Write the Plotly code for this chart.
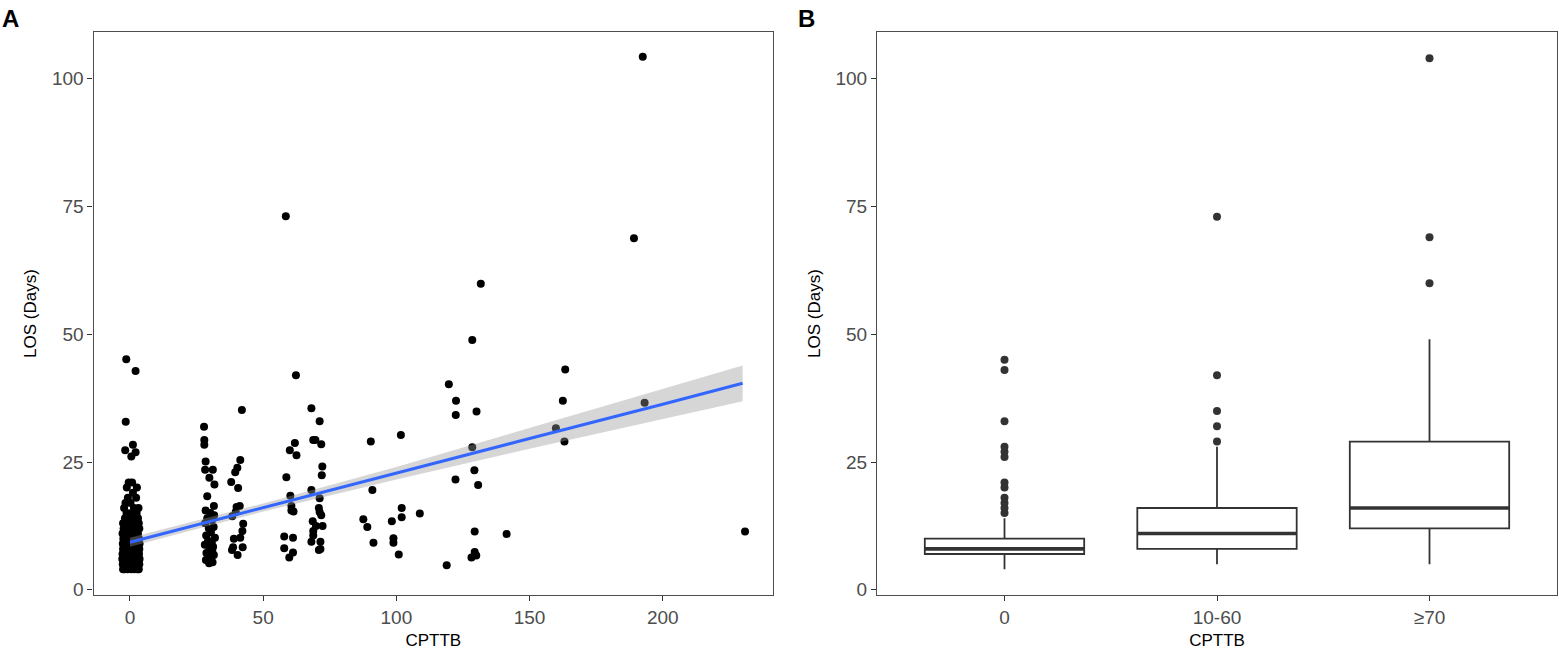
import plotly.graph_objects as go

# ---------------- Panel A data (CPTTB vs LOS, jittered as plotted) ----------------
ZERO_Y = [
    4, 4, 4, 4, 4, 4, 4,
    5, 5, 5, 5, 5, 5, 5, 5, 5, 5,
    6, 6, 6, 6, 6, 6, 6, 6, 6, 6, 6, 6, 6,
    7, 7, 7, 7, 7, 7, 7, 7, 7, 7, 7, 7, 7, 7, 7, 7, 7, 7,
    8, 8, 8, 8, 8, 8, 8, 8, 8, 8, 8, 8, 8, 8, 8, 8, 8, 8,
    9, 9, 9, 9, 9, 9, 9, 9, 9, 9, 9, 9, 9, 9,
    10, 10, 10, 10, 10, 10, 10, 10, 10, 10, 10, 10, 10,
    11, 11, 11, 11, 11, 11, 11, 11, 11,
    12, 12, 12, 12, 12, 12, 12, 12,
    13, 13, 13, 13, 13, 13, 13,
    14, 14, 14, 14, 14,
    15, 15, 15,
    16, 16, 16,
    17, 17,
    18, 18,
    19,
    20, 20,
    21, 21,
    26.1,
    27.3, 26.9,
    28.4,
    32.9,
    42.8,
    45.1,
]
ZERO_X = [
    -2.1, 0.4, 2.8, -0.9, 1.6, 3.3, -2.6,
    -1.5, 0.9, 2.2, -2.7, 3.5, -0.3, 1.4, -1.9, 2.9, 0.1,
    1.1, -2.4, 3.1, -0.7, 2.0, -1.6, 0.5, 3.6, -2.9, 1.7, -0.1, 2.6, -1.2,
    -0.5, 2.3, -2.2, 1.3, 3.4, -1.4, 0.7, -2.8, 2.7, -0.2, 1.9, -1.0, 3.0, 0.3, -2.5, 1.5, -1.8, 2.4,
    0.6, -2.3, 2.1, -0.8, 3.2, -1.7, 1.0, -2.6, 2.8, 0.0, -1.1, 1.8, 3.5, -0.4, -2.0, 2.5, 0.8, -1.3,
    1.2, -1.9, 3.3, -0.6, 2.2, -2.7, 0.4, 1.6, -1.0, 2.9, -2.2, 0.9, 3.6, -0.3,
    -1.4, 2.0, 0.2, -2.5, 3.1, 1.4, -0.7, 2.6, -1.8, 0.7, 3.4, -2.1, 1.1,
    0.5, -1.6, 2.4, -2.8, 1.8, -0.2, 3.0, -1.1, 0.9,
    -0.9, 1.7, -2.4, 2.9, 0.3, -1.5, 2.2, 3.5,
    1.3, -2.0, 0.1, 2.7, -1.2, 3.3, -2.6,
    -0.4, 2.1, -1.9, 1.0, 3.0,
    0.6, -1.3, 2.5,
    -2.2, 1.5, 3.2,
    0.2, -1.7,
    2.3, -0.8,
    1.1,
    -1.2, 2.6,
    -0.5, 0.8,
    0.5,
    -1.8, 2.1,
    1.1,
    -1.6,
    2.1,
    -1.4,
]

OTHER_X = [
    # ~30
    27.8, 27.9, 27.9, 28.4, 28.2, 31.1, 29.8, 31.7, 29.0, 31.5, 28.4, 30.2, 31.6, 29.0, 30.8, 28.2, 31.4,
    29.6, 30.4, 28.6, 31.9, 29.3, 30.7, 28.1, 31.2, 29.8, 30.9, 28.7, 31.5, 29.4, 30.3, 28.5, 31.0, 29.7,
    # ~40
    42.0, 41.4, 40.3, 39.5, 38.0, 40.6, 41.2, 40.0, 38.4, 42.5, 42.2, 41.4, 39.0, 38.7, 42.3, 38.3, 40.4, 39.7,
    # ~60
    58.5, 62.3, 61.9, 60.0, 62.5, 58.7, 60.2, 60.6, 60.6, 61.4, 57.9, 61.2, 57.9, 61.2, 59.8,
    # ~70
    68.1, 71.2, 68.8, 69.6, 71.8, 72.2, 72.0, 68.1, 71.2, 70.9, 71.2, 71.8, 68.6, 72.3, 69.8, 68.8, 68.8,
    68.1, 71.5, 70.9, 71.5,
    # ~90
    90.4, 91.0, 87.6, 89.1, 91.4,
    # ~100
    101.7, 102.0, 102.0, 98.3, 98.9, 98.9, 100.9,
    # ~110
    108.8,
    # ~120
    119.7, 122.4, 122.3, 122.2, 118.9,
    # ~130
    131.7, 128.5, 130.1, 128.5, 129.3, 130.7, 129.4, 129.4, 130.0, 128.2,
    # ~140
    141.4,
    # ~160
    163.4, 162.5, 159.9, 163.1,
    # ~190
    192.5, 189.2, 193.2,
    # ~230
    230.9,
]
OTHER_Y = [
    # ~30
    31.9, 29.3, 28.4, 25.1, 23.5, 23.5, 21.9, 20.6, 18.3, 16.4, 15.5, 15.0, 14.6, 14.0, 13.6, 13.0, 12.3,
    12.0, 11.2, 10.6, 10.2, 9.6, 9.2, 8.8, 8.4, 8.0, 7.6, 7.2, 6.8, 6.6, 6.1, 5.8, 5.4, 5.2,
    # ~40
    35.2, 25.4, 23.9, 23.0, 21.1, 19.9, 16.4, 16.2, 14.4, 12.9, 11.5, 10.2, 10.0, 8.3, 8.3, 7.8, 6.8, 15.2,
    # ~60
    73.1, 42.0, 28.7, 27.3, 26.3, 22.0, 18.4, 16.4, 15.5, 15.3, 10.4, 10.2, 8.1, 7.3, 6.3,
    # ~70
    35.5, 33.0, 29.3, 29.3, 28.5, 24.1, 22.4, 19.5, 17.9, 16.0, 15.2, 14.6, 13.4, 12.5, 12.5, 11.5, 10.6,
    9.4, 9.4, 7.8, 8.0,
    # ~90
    29.0, 19.5, 13.8, 12.3, 9.2,
    # ~100
    30.3, 16.0, 14.2, 13.4, 10.1, 9.2, 6.9,
    # ~110
    14.9,
    # ~120
    40.2, 37.0, 34.2, 21.6, 4.8,
    # ~130
    59.9, 48.9, 34.9, 27.9, 23.4, 20.5, 11.4, 7.4, 6.7, 6.3,
    # ~140
    10.9,
    # ~160
    43.1, 37.0, 31.6, 29.0,
    # ~190
    104.3, 68.8, 36.6,
    # ~230
    11.4,
]

# linear fit and its confidence band
FIT_X = [0, 25, 50, 100, 150, 200, 230]
FIT_Y = [9.3, 12.7, 16.1, 22.8, 29.6, 36.3, 40.4]
FIT_LO = [8.4, 11.9, 15.3, 21.6, 27.6, 33.4, 36.9]
FIT_HI = [10.2, 13.5, 16.9, 24.0, 31.6, 39.2, 43.9]

A_XTICKS = [0, 50, 100, 150, 200]
Y_TICKS = [0, 25, 50, 75, 100]

# ---------------- Panel B data (box statistics) ----------------
BOX_CATS = ["0", "10-60", "\u226570"]
BOX_Q1 = [7, 8, 12]
BOX_MED = [8, 11, 16]
BOX_Q3 = [10, 16, 29]
BOX_LO = [4, 5, 5]
BOX_HI = [14, 28, 49]
BOX_OUTLIERS = [
    [15, 16, 17, 18, 20, 21, 26, 27, 28, 33, 43, 45],
    [29, 32, 35, 42, 73],
    [60, 69, 104],
]

# ---------------- styling ----------------
FONT = "Liberation Sans"
TICK_FONT = dict(family=FONT, size=19, color="#4D4D4D")
TITLE_FONT = dict(family=FONT, size=17, color="#000000")
BORDER = "#4D4D4D"
BOX_W = 0.75

fig = go.Figure()

# Panel A: points
fig.add_trace(go.Scatter(
    x=ZERO_X + OTHER_X, y=ZERO_Y + OTHER_Y, mode="markers",
    marker=dict(color="black", size=8, line=dict(width=0)),
    xaxis="x", yaxis="y", showlegend=False, hoverinfo="skip",
))
# confidence band
fig.add_trace(go.Scatter(
    x=FIT_X + FIT_X[::-1], y=FIT_HI + FIT_LO[::-1], mode="lines",
    fill="toself", fillcolor="rgba(153,153,153,0.4)", line=dict(width=0),
    xaxis="x", yaxis="y", showlegend=False, hoverinfo="skip",
))
# fit line
fig.add_trace(go.Scatter(
    x=FIT_X, y=FIT_Y, mode="lines", line=dict(color="#3366FF", width=3),
    xaxis="x", yaxis="y", showlegend=False, hoverinfo="skip",
))

# Panel B: boxes
for i, cat in enumerate(BOX_CATS):
    fig.add_trace(go.Box(
        x=[i], q1=[BOX_Q1[i]], median=[BOX_MED[i]], q3=[BOX_Q3[i]],
        lowerfence=[BOX_LO[i]], upperfence=[BOX_HI[i]],
        width=BOX_W, whiskerwidth=0, fillcolor="white",
        line=dict(color="#333333", width=1.8), boxpoints=False,
        xaxis="x2", yaxis="y2", showlegend=False, hoverinfo="skip",
    ))
    # thicker median bar (ggplot style)
    fig.add_trace(go.Scatter(
        x=[i - BOX_W / 2, i + BOX_W / 2], y=[BOX_MED[i], BOX_MED[i]], mode="lines",
        line=dict(color="#333333", width=3.6),
        xaxis="x2", yaxis="y2", showlegend=False, hoverinfo="skip",
    ))
    fig.add_trace(go.Scatter(
        x=[i] * len(BOX_OUTLIERS[i]), y=BOX_OUTLIERS[i], mode="markers",
        marker=dict(color="#333333", size=8, line=dict(width=0)),
        xaxis="x2", yaxis="y2", showlegend=False, hoverinfo="skip",
    ))

axis_common = dict(
    showline=True, linecolor=BORDER, linewidth=1.2, mirror=True,
    showgrid=False, zeroline=False,
    ticks="outside", ticklen=5, tickwidth=1, tickcolor="#333333",
    tickfont=TICK_FONT,
)

fig.update_layout(
    width=1559, height=650,
    margin=dict(l=0, r=0, t=0, b=0),
    paper_bgcolor="white", plot_bgcolor="white",
    xaxis=dict(domain=[93.5 / 1559, 773 / 1559], range=[-13.7, 241.4],
               tickvals=A_XTICKS, anchor="y",
               title=dict(text="CPTTB", font=TITLE_FONT, standoff=8),
               **axis_common),
    yaxis=dict(domain=[50 / 650, 618 / 650], range=[-1.1, 109.2],
               tickvals=Y_TICKS, anchor="x",
               title=dict(text="LOS (Days)", font=TITLE_FONT, standoff=10),
               **axis_common),
    xaxis2=dict(domain=[877 / 1559, 1557 / 1559], range=[-0.6, 2.6],
                tickvals=[0, 1, 2], ticktext=BOX_CATS, anchor="y2",
                title=dict(text="CPTTB", font=TITLE_FONT, standoff=8),
                **axis_common),
    yaxis2=dict(domain=[50 / 650, 618 / 650], range=[-1.1, 109.2],
                tickvals=Y_TICKS, anchor="x2",
                title=dict(text="LOS (Days)", font=TITLE_FONT, standoff=10),
                **axis_common),
    annotations=[
        dict(text="<b>A</b>", x=0, y=1.0, xref="paper", yref="paper",
             xanchor="left", yanchor="top", yshift=-3, showarrow=False,
             font=dict(family=FONT, size=24, color="black")),
        dict(text="<b>B</b>", x=796 / 1559, y=1.0, xref="paper", yref="paper",
             xanchor="left", yanchor="top", yshift=-3, showarrow=False,
             font=dict(family=FONT, size=24, color="black")),
    ],
)

fig.write_html(
    "out.html",
    config={"displayModeBar": False},
    post_script="document.body.style.margin='0';document.body.style.padding='0';",
)
